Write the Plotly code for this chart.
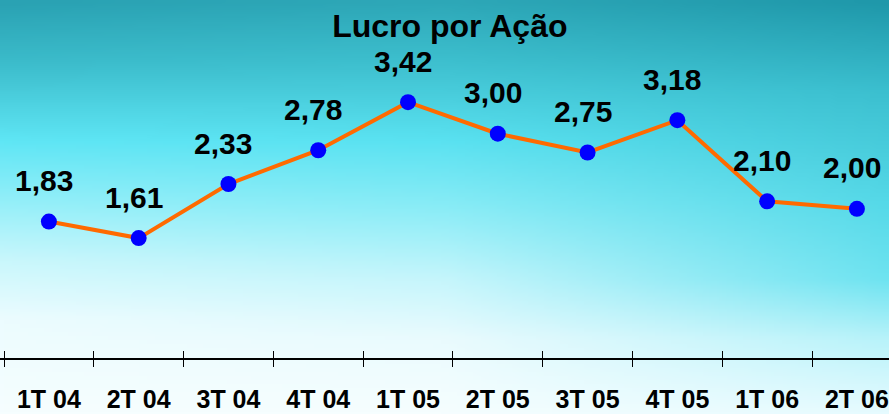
import base64, struct, zlib
import numpy as np
import plotly.graph_objects as go

# ---- data ----
categories = ["1T 04", "2T 04", "3T 04", "4T 04", "1T 05", "2T 05", "3T 05", "4T 05", "1T 06", "2T 06"]
values = [1.83, 1.61, 2.33, 2.78, 3.42, 3.00, 2.75, 3.18, 2.10, 2.00]
labels = ["1,83", "1,61", "2,33", "2,78", "3,42", "3,00", "2,75", "3,18", "2,10", "2,00"]
title_text = "Lucro por Ação"

W, H = 889, 414

# ---- background gradient image ----
def hex2rgb(h):
    h = h.lstrip("#")
    return np.array([int(h[i:i + 2], 16) for i in (0, 2, 4)], dtype=float)

def column(stops, n):
    ys = np.array([s[0] for s in stops], dtype=float)
    cs = np.array([hex2rgb(s[1]) for s in stops])
    yy = np.linspace(0, H, n)
    return np.stack([np.interp(yy, ys, cs[:, k]) for k in range(3)], axis=1)

left_stops = [(0, "#2aa2b3"), (60, "#3cbccb"), (140, "#5fe6f5"), (200, "#93eff9"),
              (260, "#c9f7fc"), (320, "#ecfcff"), (414, "#f6feff")]
mid_stops = [(0, "#2ea8b8"), (60, "#3ec0cf"), (140, "#5ae2f1"), (210, "#8cedf7"),
             (280, "#c6f6fc"), (340, "#eafbfe"), (414, "#f6feff")]
right_stops = [(0, "#1f98aa"), (90, "#3cc0d0"), (200, "#55d9e8"), (280, "#6fe4f1"),
               (340, "#b8f3fa"), (414, "#e6fbff")]
nh, nw = 104, 112
cl, cm, cr = column(left_stops, nh), column(mid_stops, nh), column(right_stops, nh)
t = np.linspace(0, 1, nw)[None, :, None]
wl = np.clip(1 - 2 * t, 0, 1)
wr = np.clip(2 * t - 1, 0, 1)
wm = 1 - wl - wr
img = wl * cl[:, None, :] + wm * cm[:, None, :] + wr * cr[:, None, :]
img = np.clip(img, 0, 255).astype(np.uint8)

def png_bytes(a):
    h, w, _ = a.shape
    raw = b"".join(b"\x00" + a[i].tobytes() for i in range(h))
    def chunk(tag, data):
        c = struct.pack(">I", len(data)) + tag + data
        return c + struct.pack(">I", zlib.crc32(tag + data) & 0xffffffff)
    return (b"\x89PNG\r\n\x1a\n" + chunk(b"IHDR", struct.pack(">IIBBBBB", w, h, 8, 2, 0, 0, 0))
            + chunk(b"IDAT", zlib.compress(raw, 9)) + chunk(b"IEND", b""))

bg_src = "data:image/png;base64," + base64.b64encode(png_bytes(img)).decode()

# ---- figure ----
FONT = "Liberation Sans, Arial, sans-serif"

fig = go.Figure()
fig.add_trace(go.Scatter(
    x=categories, y=values, mode="lines+markers",
    line=dict(color="#ff6a00", width=4),
    marker=dict(color="#0000ff", size=16, line=dict(width=0)),
    hoverinfo="skip", cliponaxis=False,
))

for c, v, lab in zip(categories, values, labels):
    fig.add_annotation(x=c, y=v, text="<b>%s</b>" % lab, showarrow=False,
                       xshift=-5, yshift=41, xanchor="center", yanchor="middle",
                       font=dict(family=FONT, size=30, color="black"))

px_per_unit = 75.1
plot_h = 367
bottom_margin = H - plot_h
y_top = 359 / px_per_unit
y_bot = -8 / px_per_unit
x_left = -0.5 - 4 / 89.78
x_right = -0.5 + 885 / 89.78

fig.update_layout(
    width=W, height=H,
    margin=dict(l=0, r=0, t=0, b=bottom_margin, autoexpand=False),
    paper_bgcolor="#ffffff", plot_bgcolor="rgba(0,0,0,0)",
    showlegend=False,
    title=dict(text="<b>%s</b>" % title_text, x=0.506, xanchor="center",
               y=1 - 26 / H, yanchor="middle", yref="container",
               font=dict(family=FONT, size=32, color="black")),
    images=[dict(source=bg_src, xref="paper", yref="paper", x=0, y=1,
                 sizex=1, sizey=H / plot_h, xanchor="left", yanchor="top",
                 sizing="stretch", layer="below")],
    xaxis=dict(type="category", range=[x_left, x_right], automargin=False,
               showgrid=False, showline=False,
               zeroline=False, ticks="inside", ticklen=16, tickwidth=1, tickcolor="black",
               tickson="boundaries", ticklabelstandoff=15,
               tickfont=dict(family=FONT, size=25, color="black", weight="bold")),
    yaxis=dict(range=[y_bot, y_top], showgrid=False, showticklabels=False, ticks="",
               automargin=False,
               zeroline=True, zerolinecolor="black", zerolinewidth=1.5, showline=False),
)

fig.write_html("out.html")
